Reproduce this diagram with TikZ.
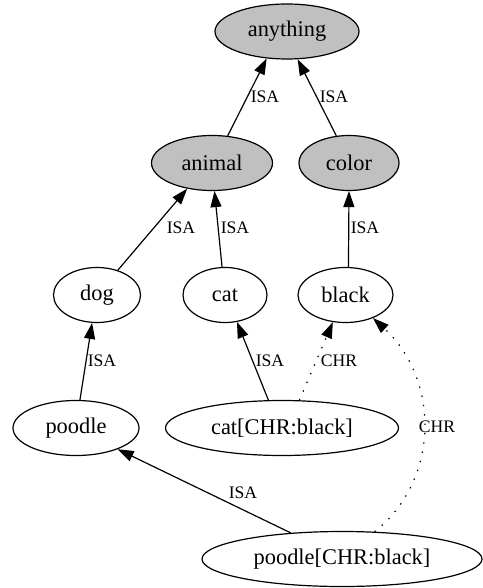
\documentclass[tikz,border=0pt]{standalone}
\usepackage{fontspec}
\setmainfont{Liberation Serif}
\usetikzlibrary{shapes.geometric,arrows.meta}
\definecolor{ggray}{RGB}{192,192,192}
\begin{document}
\begin{tikzpicture}[x=1pt,y=-1pt,
 nd/.style={ellipse,draw,line width=1.2pt,inner sep=0pt,minimum height=55pt,font=\fontsize{22.4}{24}\selectfont},
 gr/.style={nd,fill=ggray},
 lbl/.style={font=\fontsize{17.6}{19}\selectfont,inner sep=0pt},
 isa/.style={line width=1.2pt,-{Triangle[length=16pt,width=11pt]}},
 chr/.style={isa,dash pattern=on 1.4pt off 8pt}]
\useasboundingbox[fill=white] (0,0) rectangle (482,588);
\node[gr,minimum width=144pt] (anything) at (287,31.5) {anything};
\node[gr,minimum width=121pt] (animal) at (212,163) {animal};
\node[gr,minimum width=100pt] (color) at (349,163) {color};
\node[nd,minimum width=87pt] (dog) at (97,295) {dog};
\node[nd,minimum width=84pt] (cat) at (225,295) {cat};
\node[nd,minimum width=95pt] (black) at (345.5,295) {black};
\node[nd,minimum width=126pt] (poodle) at (76,428) {poodle};
\node[nd,minimum width=233pt] (catchr) at (282,428) {cat[CHR:black]};
\node[nd,minimum width=280pt] (poodlechr) at (342,559) {poodle[CHR:black]};
\draw[isa] (animal.60) -- (anything.233);
\draw[isa] (color.115) -- (anything.291);
\draw[isa] (dog.50) -- (animal.226);
\draw[isa] (cat.96) -- (animal.275);
\draw[isa] (black.84) -- (color.270);
\draw[isa] (poodle.82) -- (dog.260);
\draw[isa] (catchr.116) -- (cat.294);
\draw[chr] (catchr.58) -- (black.245);
\draw[chr] (poodlechr.40) .. controls (440,480) and (440,380) .. (black.320);
\draw[isa] (poodlechr.153) -- (poodle.333);
\node[lbl] (l1) at (265,97) {ISA};
\node[lbl] (l2) at (334,97) {ISA};
\node[lbl] (l3) at (181,228) {ISA};
\node[lbl] (l4) at (235,228) {ISA};
\node[lbl] (l5) at (365,228) {ISA};
\node[lbl] (l6) at (102,361) {ISA};
\node[lbl] (l7) at (270,361) {ISA};
\node[lbl] (l8) at (339,361) {CHR};
\node[lbl] (l9) at (437,427) {CHR};
\node[lbl] (l10) at (243,493) {ISA};
\end{tikzpicture}
\end{document}
